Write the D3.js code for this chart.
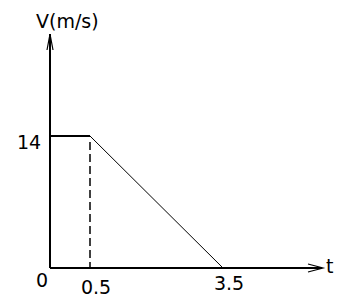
<!DOCTYPE html>
<html>
<head>
<meta charset="utf-8">
<script src="https://cdn.jsdelivr.net/npm/d3@7"></script>
<style>
  body { margin: 0; background: #fff; }
  text { font-family: "DejaVu Sans", sans-serif; fill: #000; }
</style>
</head>
<body>
<div id="chart"></div>
<script>
const times = [0, 0.5, 3.5];
const speeds = [14, 14, 0];
const xTicks = ['0.5', '3.5'];
const yTicks = ['14'];

const width = 342;
const height = 300;

const svg = d3
  .select('#chart')
  .append('svg')
  .attr('width', width)
  .attr('height', height);

// hand-drawn sketch: 0.5 sits wider than its share, so a piecewise scale
const x = d3.scaleLinear().domain([0, 0.5, 3.5]).range([50, 90, 223]);
const y = d3.scaleLinear().domain([0, 14]).range([268, 136]);

// axes with open arrow heads
svg.append('line')
  .attr('x1', x(0)).attr('x2', x(0))
  .attr('y1', y(0)).attr('y2', 34)
  .attr('stroke', '#000').attr('stroke-width', 2);
svg.append('path')
  .attr('d', `M${x(0) - 3},50 L${x(0)},34 L${x(0) + 3},50`)
  .attr('fill', 'none').attr('stroke', '#000').attr('stroke-width', 1.2);

svg.append('line')
  .attr('x1', x(0)).attr('x2', 322)
  .attr('y1', y(0)).attr('y2', y(0))
  .attr('stroke', '#000').attr('stroke-width', 2);
svg.append('path')
  .attr('d', `M308,${y(0) - 4} L323,${y(0)} L308,${y(0) + 4}`)
  .attr('fill', 'none').attr('stroke', '#000').attr('stroke-width', 1.2);

// flat part
svg.append('line')
  .attr('x1', x(times[0])).attr('x2', x(times[1]))
  .attr('y1', y(speeds[0])).attr('y2', y(speeds[1]))
  .attr('stroke', '#000').attr('stroke-width', 2);

// falling part
svg.append('line')
  .attr('x1', x(times[1])).attr('x2', x(times[2]))
  .attr('y1', y(speeds[1])).attr('y2', y(speeds[2]))
  .attr('stroke', '#000').attr('stroke-width', 1);

// dashed drop line at 0.5
svg.append('line')
  .attr('x1', x(times[1])).attr('x2', x(times[1]))
  .attr('y1', y(speeds[1]) + 6).attr('y2', y(0))
  .attr('stroke', '#000').attr('stroke-width', 1.5)
  .attr('stroke-dasharray', '8,4');

// labels
svg.append('text')
  .attr('x', 36).attr('y', 28)
  .attr('font-size', 19)
  .text('V(m/s)');

svg.append('text')
  .attr('x', 29).attr('y', y(+yTicks[0]) + 13)
  .attr('text-anchor', 'middle')
  .attr('font-size', 19)
  .text(yTicks[0]);

svg.append('text')
  .attr('x', 42).attr('y', 287)
  .attr('text-anchor', 'middle')
  .attr('font-size', 19)
  .text('0');

svg.selectAll('.xt')
  .data(xTicks)
  .join('text')
  .attr('x', (d) => x(+d) + 6)
  .attr('y', (d, i) => (i === 0 ? 294 : 290))
  .attr('text-anchor', 'middle')
  .attr('font-size', 19)
  .text((d) => d);

svg.append('text')
  .attr('x', 326).attr('y', 273)
  .attr('font-size', 19)
  .text('t');
</script>
</body>
</html>
